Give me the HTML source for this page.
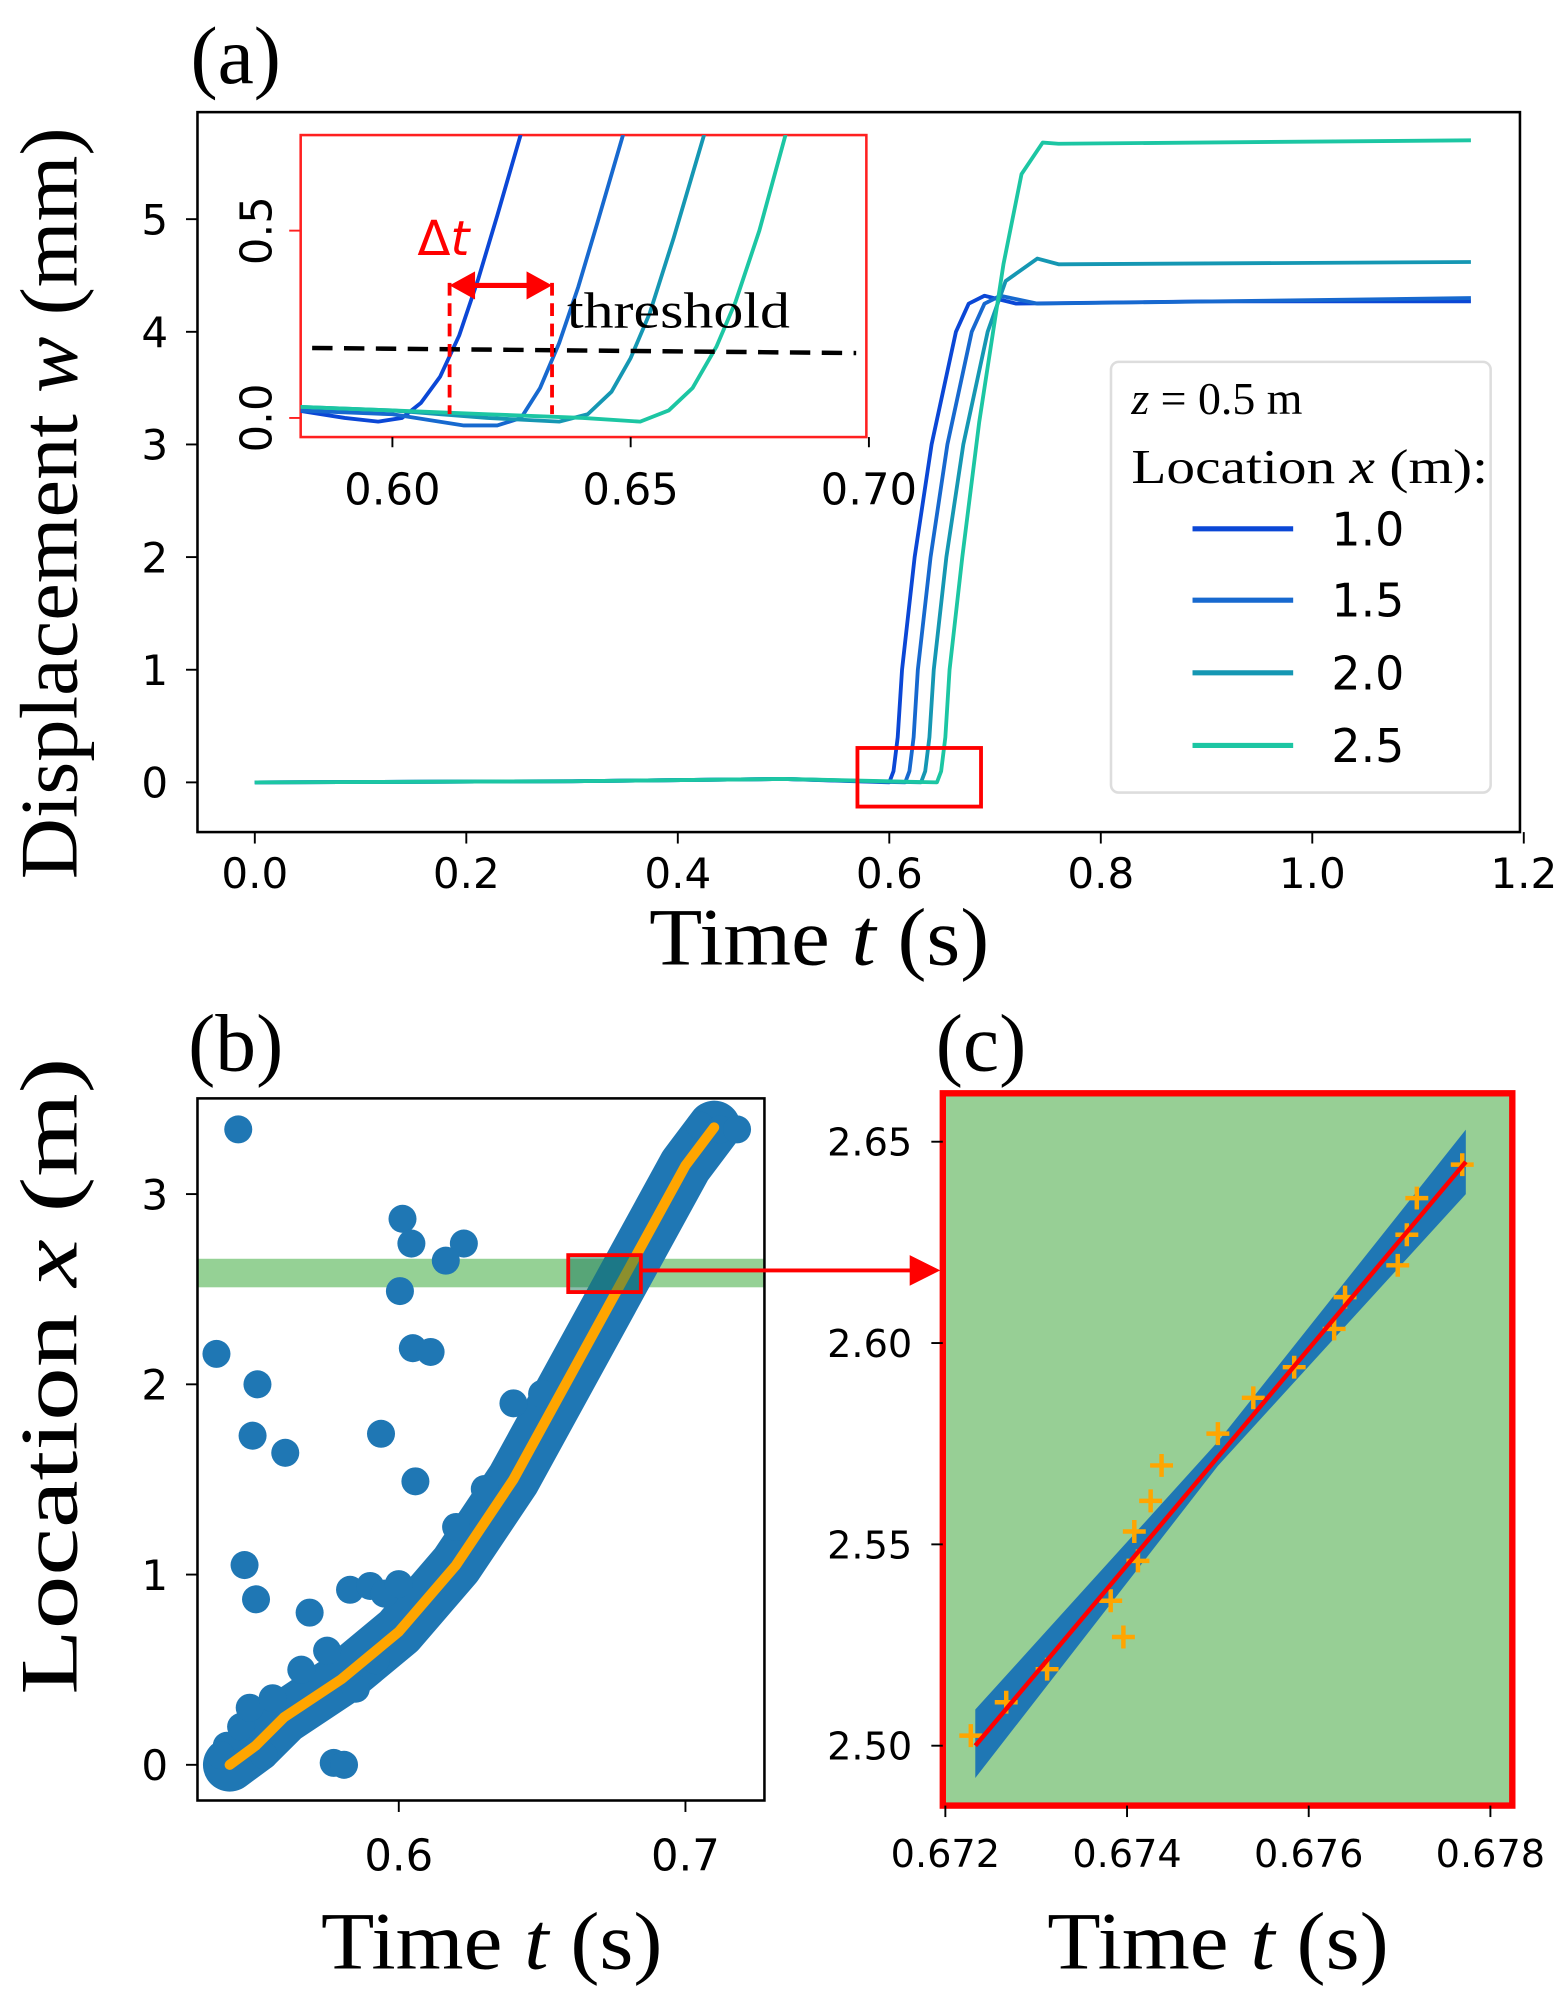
<!DOCTYPE html>
<html><head><meta charset="utf-8"><style>
html,body{margin:0;padding:0;background:#fff;}
svg{display:block;}
.sans{font-family:"DejaVu Sans","Liberation Sans",sans-serif;}
.serif{font-family:"Liberation Serif",serif;}
</style></head><body>
<svg id="fig" width="1562" height="1998" viewBox="0 0 1226 1568" preserveAspectRatio="none" xmlns="http://www.w3.org/2000/svg">
<defs>
<clipPath id="clipA"><rect x="155" y="88" width="1038" height="565"/></clipPath>
<clipPath id="clipIn"><rect x="236" y="106" width="444" height="237"/></clipPath>
<clipPath id="clipB"><rect x="155" y="862" width="445" height="551"/></clipPath>
<clipPath id="clipC"><rect x="740" y="858" width="447" height="559"/></clipPath>
</defs>
<g id="panelA"></g>
<g id="panelB"></g>
<g id="panelC"></g>
</svg>
<script>
// ---------- Panel (a) data ----------
const aSeriesLabels = ["1.0","1.5","2.0","2.5"];
const aColors = ["#0b47d6","#1769cf","#1597b3","#1cc6a3"];
const aT1 = [0,0.3,0.5,0.6,0.604,0.608,0.612,0.624,0.64,0.663,0.675,0.69,0.72,0.9,1.15];
const aW1 = [0,0.01,0.03,0,0.1,0.4,1.0,2.0,3.0,4.0,4.25,4.32,4.25,4.27,4.27];
const aT2 = [0,0.3,0.5,0.615,0.619,0.623,0.627,0.639,0.655,0.678,0.69,0.705,0.74,1.15];
const aW2 = [0,0.01,0.03,0,0.1,0.4,1.0,2.0,3.0,4.0,4.25,4.32,4.25,4.3];
const aT3 = [0,0.3,0.5,0.63,0.634,0.638,0.642,0.654,0.67,0.693,0.71,0.74,0.76,1.15];
const aW3 = [0,0.01,0.03,0,0.1,0.4,1.0,2.0,3.0,4.0,4.45,4.65,4.6,4.62];
const aT4 = [0,0.3,0.5,0.645,0.649,0.653,0.657,0.669,0.685,0.708,0.725,0.745,0.76,1.15];
const aW4 = [0,0.01,0.03,0,0.1,0.4,1.0,2.0,3.2,4.6,5.4,5.68,5.67,5.7];
const aXTicks = [0,0.2,0.4,0.6,0.8,1.0,1.2];
const aXTickLabels = ["0.0","0.2","0.4","0.6","0.8","1.0","1.2"];
const aYTicks = [0,1,2,3,4,5];
// inset
const iT1 = [0.58,0.59,0.597,0.602,0.606,0.61,0.614,0.618,0.622,0.627];
const iW1 = [0.02,0.0,-0.01,0.0,0.04,0.11,0.22,0.37,0.54,0.76];
const iT2 = [0.58,0.6,0.615,0.622,0.627,0.631,0.635,0.639,0.643,0.6485];
const iW2 = [0.02,0.01,-0.02,-0.02,0.0,0.08,0.2,0.35,0.52,0.76];
const iT3 = [0.58,0.6,0.62,0.635,0.641,0.646,0.65,0.654,0.659,0.6655];
const iW3 = [0.03,0.02,0.0,-0.01,0.01,0.07,0.16,0.28,0.48,0.76];
const iT4 = [0.58,0.6,0.62,0.64,0.652,0.658,0.663,0.668,0.672,0.677,0.6826];
const iW4 = [0.03,0.02,0.01,0.0,-0.01,0.02,0.08,0.19,0.31,0.5,0.76];
const iXTicks = [0.60,0.65,0.70];
const iXTickLabels = ["0.60","0.65","0.70"];
const iYTicks = [0.0,0.5];
const iYTickLabels = ["0.0","0.5"];
const threshold = 0.18;
const dtStart = 0.612, dtEnd = 0.6335;
// ---------- Panel (b) data ----------
const bCurveT = [0.541,0.55,0.56,0.58,0.6,0.62,0.64,0.66,0.68,0.70,0.71];
const bCurveX = [0,0.1,0.25,0.45,0.7,1.05,1.5,2.05,2.6,3.15,3.35];
const bOutT = [0.544,0.5364,0.5507,0.549,0.5604,0.5462,0.5502,0.5689,0.6013,0.6044,0.6004,0.6227,0.6164,0.6049,0.6111,0.5938,0.6058,0.5773,0.5809,0.583,0.59,0.705,0.712,0.718,0.54,0.545,0.553,0.575,0.595,0.62,0.64,0.538,0.548,0.556,0.566,0.585,0.6,0.592,0.63,0.65];
const bOutX = [3.34,2.16,2.0,1.73,1.64,1.05,0.87,0.80,2.87,2.74,2.49,2.74,2.65,2.19,2.17,1.74,1.49,0.01,0.0,0.92,0.94,3.36,3.34,3.34,0.1,0.2,0.05,0.6,0.9,1.25,1.9,0.05,0.3,0.35,0.5,0.4,0.95,0.55,1.45,1.95];
const bXTicks = [0.6,0.7];
const bXTickLabels = ["0.6","0.7"];
const bYTicks = [0,1,2,3];
const bBand = [2.51,2.66];
// ---------- Panel (c) data ----------
const cPtT = [0.67228,0.67267,0.67312,0.67382,0.67396,0.67412,0.67408,0.67426,0.67438,0.6750,0.67539,0.67584,0.67628,0.6764,0.67698,0.67708,0.67719,0.67769];
const cPtX = [2.5025,2.5108,2.519,2.536,2.527,2.5459,2.5532,2.5608,2.5696,2.5775,2.5864,2.594,2.6035,2.6114,2.6193,2.6269,2.636,2.6443];
const cFitT = [0.67233,0.67773];
const cFitX = [2.5,2.645];
const cBandT = [0.67233,0.675,0.67773];
const cBandUp = [2.509,2.5755,2.653];
const cBandLo = [2.492,2.5695,2.637];
const cXTicks = [0.672,0.674,0.676,0.678];
const cXTickLabels = ["0.672","0.674","0.676","0.678"];
const cYTicks = [2.50,2.55,2.60,2.65];
const cYTickLabels = ["2.50","2.55","2.60","2.65"];

const NS="http://www.w3.org/2000/svg";
function mk(tag, parent, attrs){const e=document.createElementNS(NS,tag);for(const k in attrs)e.setAttribute(k,attrs[k]);parent.appendChild(e);return e;}
function txt(parent,x,y,s,size,cls,anchor,extra){const e=mk('text',parent,Object.assign({x:x,y:y,'font-size':size,class:cls,'text-anchor':anchor||'middle'},extra||{}));e.textContent=s;return e;}

const ax=t=>200+830*t, ay=w=>614-88.4*w;
const ix=t=>308+3740*(t-0.6), iy=w=>328-294*w;
const bx=t=>313+2250*(t-0.6), by=v=>1385-149.3*v;
const cx=t=>742+71300*(t-0.672), cy=v=>1370-3160*(v-2.5);

// ===== Panel A =====
const A=document.getElementById('panelA');
let e;
e=txt(A,185,65,"(a)",64,'serif');

e=mk('rect',A,{x:155,y:88,width:1038,height:565,fill:'none',stroke:'#000','stroke-width':2});

aXTicks.forEach((t,i)=>{
  e=mk('line',A,{x1:ax(t),x2:ax(t),y1:653,y2:662,stroke:'#000','stroke-width':1.5});
  
  e=txt(A,ax(t),697,aXTickLabels[i],33,'sans');
  
});
aYTicks.forEach(v=>{
  e=mk('line',A,{x1:146,x2:155,y1:ay(v),y2:ay(v),stroke:'#000','stroke-width':1.5});
  
  e=txt(A,132,ay(v)+12,String(v),33,'sans','end');
  
});
e=txt(A,643,757,"",64,'serif','middle',{textLength:267,lengthAdjust:'spacingAndGlyphs'});
e.innerHTML='Time <tspan font-style="italic">t</tspan> (s)';

e=txt(A,0,0,"",64,'serif','middle',{transform:'translate(60,395) rotate(-90)',textLength:590,lengthAdjust:'spacingAndGlyphs'});
e.innerHTML='Displacement <tspan font-style="italic">w</tspan> (mm)';

const gA=mk('g',A,{'clip-path':'url(#clipA)'});
[[aT1,aW1],[aT2,aW2],[aT3,aW3],[aT4,aW4]].forEach((s,k)=>{
  const pts=s[0].map((t,i)=>ax(t).toFixed(1)+','+ay(s[1][i]).toFixed(1)).join(' ');
  e=mk('polyline',gA,{points:pts,fill:'none',stroke:aColors[k],'stroke-width':3,'stroke-linejoin':'round'});
  
});
e=mk('rect',A,{x:673,y:587,width:97,height:46,fill:'none',stroke:'#ff0000','stroke-width':3});

// legend
e=mk('rect',A,{x:872,y:284,width:298,height:338,rx:6,fill:'#fff',stroke:'#ddd','stroke-width':2});

e=txt(A,888,325,"",36,'serif','start');
e.innerHTML='<tspan font-style="italic">z</tspan> = 0.5 m';

e=txt(A,888,379,"",38,'serif','start',{textLength:280,lengthAdjust:'spacingAndGlyphs'});
e.innerHTML='Location <tspan font-style="italic">x</tspan> (m):';

const legY=[415,471,528,585];
aSeriesLabels.forEach((l,k)=>{
  e=mk('line',A,{x1:936,x2:1015,y1:legY[k],y2:legY[k],stroke:aColors[k],'stroke-width':4});
  
  e=txt(A,1045,legY[k]+13,l,36,'sans','start');
  
});
// inset
e=mk('rect',A,{x:236,y:106,width:444,height:237,fill:'#fff',stroke:'#ff2020','stroke-width':2});

iXTicks.forEach((t,i)=>{
  e=mk('line',A,{x1:ix(t),x2:ix(t),y1:343,y2:351,stroke:'#000','stroke-width':1.5});
  
  e=txt(A,ix(t),396,iXTickLabels[i],34,'sans');
  
});
iYTicks.forEach((v,i)=>{
  e=mk('line',A,{x1:227,x2:236,y1:iy(v),y2:iy(v),stroke:'#ff2020','stroke-width':1.5});
  
  e=txt(A,0,0,iYTickLabels[i],34,'sans','middle',{transform:'translate(213,'+iy(v)+') rotate(-90)'});
  
});
const gI=mk('g',A,{'clip-path':'url(#clipIn)'});
[[iT1,iW1],[iT2,iW2],[iT3,iW3],[iT4,iW4]].forEach((s,k)=>{
  const pts=s[0].map((t,i)=>ix(t).toFixed(1)+','+iy(s[1][i]).toFixed(1)).join(' ');
  e=mk('polyline',gI,{points:pts,fill:'none',stroke:aColors[k],'stroke-width':3,'stroke-linejoin':'round'});
  
});
e=mk('line',A,{x1:245,x2:672,y1:iy(threshold)-2,y2:iy(threshold)+2,stroke:'#000','stroke-width':3.5,'stroke-dasharray':'16 9'});

e=txt(A,445,257,"threshold",40,'serif','start',{textLength:175,lengthAdjust:'spacingAndGlyphs'});

[dtStart,dtEnd].forEach(t=>{
  e=mk('line',A,{x1:ix(t),x2:ix(t),y1:222,y2:325,stroke:'#ff0000','stroke-width':3,'stroke-dasharray':'10 6'});
  
});
e=mk('line',A,{x1:ix(dtStart)+12,x2:ix(dtEnd)-12,y1:224,y2:224,stroke:'#ff0000','stroke-width':4});

e=mk('polygon',A,{points:`${ix(dtStart)},224 ${ix(dtStart)+20},213 ${ix(dtStart)+20},235`,fill:'#ff0000'});

e=mk('polygon',A,{points:`${ix(dtEnd)},224 ${ix(dtEnd)-20},213 ${ix(dtEnd)-20},235`,fill:'#ff0000'});

e=txt(A,348,200,"",38,'sans');
e.setAttribute('fill','#ff0000');
e.innerHTML='Δ<tspan font-style="italic">t</tspan>';


// ===== Panel B =====
const B=document.getElementById('panelB');
e=txt(B,185,840,"(b)",64,'serif');

const gB=mk('g',B,{'clip-path':'url(#clipB)'});
e=mk('rect',gB,{x:155,y:by(bBand[1]),width:445,height:by(bBand[0])-by(bBand[1]),fill:'#5cb85c','fill-opacity':0.65});

const bPts=bCurveT.map((t,i)=>bx(t).toFixed(1)+','+by(bCurveX[i]).toFixed(1)).join(' ');
e=mk('polyline',gB,{points:bPts,fill:'none',stroke:'#1f77b4','stroke-width':42,'stroke-linejoin':'round','stroke-linecap':'round'});

bOutT.forEach((t,i)=>{
  e=mk('circle',gB,{cx:bx(t),cy:by(bOutX[i]),r:11,fill:'#1f77b4'});
  
});
e=mk('polyline',gB,{points:bPts,fill:'none',stroke:'#ffa500','stroke-width':8,'stroke-linejoin':'round','stroke-linecap':'round'});

e=mk('rect',B,{x:155,y:862,width:445,height:551,fill:'none',stroke:'#000','stroke-width':2});

e=mk('rect',B,{x:446,y:985,width:57,height:29,fill:'#1a7a5a','fill-opacity':0.5,stroke:'#ff0000','stroke-width':3});

e=mk('line',B,{x1:503,x2:715,y1:997,y2:997,stroke:'#ff0000','stroke-width':3});

e=mk('polygon',B,{points:'738,997 714,985 714,1009',fill:'#ff0000'});

bXTicks.forEach((t,i)=>{
  e=mk('line',B,{x1:bx(t),x2:bx(t),y1:1413,y2:1422,stroke:'#000','stroke-width':1.5});
  
  e=txt(B,bx(t),1468,bXTickLabels[i],34,'sans');
  
});
bYTicks.forEach(v=>{
  e=mk('line',B,{x1:146,x2:155,y1:by(v),y2:by(v),stroke:'#000','stroke-width':1.5});
  
  e=txt(B,132,by(v)+12,String(v),33,'sans','end');
  
});
e=txt(B,386,1545,"",64,'serif','middle',{textLength:268,lengthAdjust:'spacingAndGlyphs'});
e.innerHTML='Time <tspan font-style="italic">t</tspan> (s)';

e=txt(B,0,0,"",64,'serif','middle',{transform:'translate(60,1080) rotate(-90)',textLength:500,lengthAdjust:'spacingAndGlyphs'});
e.innerHTML='Location <tspan font-style="italic">x</tspan> (m)';


// ===== Panel C =====
const C=document.getElementById('panelC');
e=txt(C,770,840,"(c)",64,'serif');

e=mk('rect',C,{x:740,y:858,width:447,height:559,fill:'#97cf95'});

const gC=mk('g',C,{'clip-path':'url(#clipC)'});
const up=cBandT.map((t,i)=>cx(t).toFixed(1)+','+cy(cBandUp[i]).toFixed(1));
const lo=cBandT.map((t,i)=>cx(t).toFixed(1)+','+cy(cBandLo[i]).toFixed(1)).reverse();
e=mk('polygon',gC,{points:up.concat(lo).join(' '),fill:'#1f77b4'});

cPtT.forEach((t,i)=>{
  const X=cx(t),Y=cy(cPtX[i]);
  e=mk('path',gC,{d:`M${X-9},${Y}H${X+9}M${X},${Y-9}V${Y+9}`,stroke:'#ffa500','stroke-width':3.5});
  
});
e=mk('line',gC,{x1:cx(cFitT[0]),y1:cy(cFitX[0]),x2:cx(cFitT[1]),y2:cy(cFitX[1]),stroke:'#ff0000','stroke-width':3.5});

e=mk('rect',C,{x:740,y:858,width:447,height:559,fill:'none',stroke:'#ff0000','stroke-width':5});

cXTicks.forEach((t,i)=>{
  e=mk('line',C,{x1:cx(t),x2:cx(t),y1:1417,y2:1426,stroke:'#000','stroke-width':1.5});
  
  e=txt(C,cx(t),1465,cXTickLabels[i],30,'sans');
  
});
cYTicks.forEach((v,i)=>{
  e=mk('line',C,{x1:731,x2:740,y1:cy(v),y2:cy(v),stroke:'#000','stroke-width':1.5});
  
  e=txt(C,716,cy(v)+11,cYTickLabels[i],30,'sans','end');
  
});
e=txt(C,956,1545,"",64,'serif','middle',{textLength:268,lengthAdjust:'spacingAndGlyphs'});
e.innerHTML='Time <tspan font-style="italic">t</tspan> (s)';

</script>
</body></html>
